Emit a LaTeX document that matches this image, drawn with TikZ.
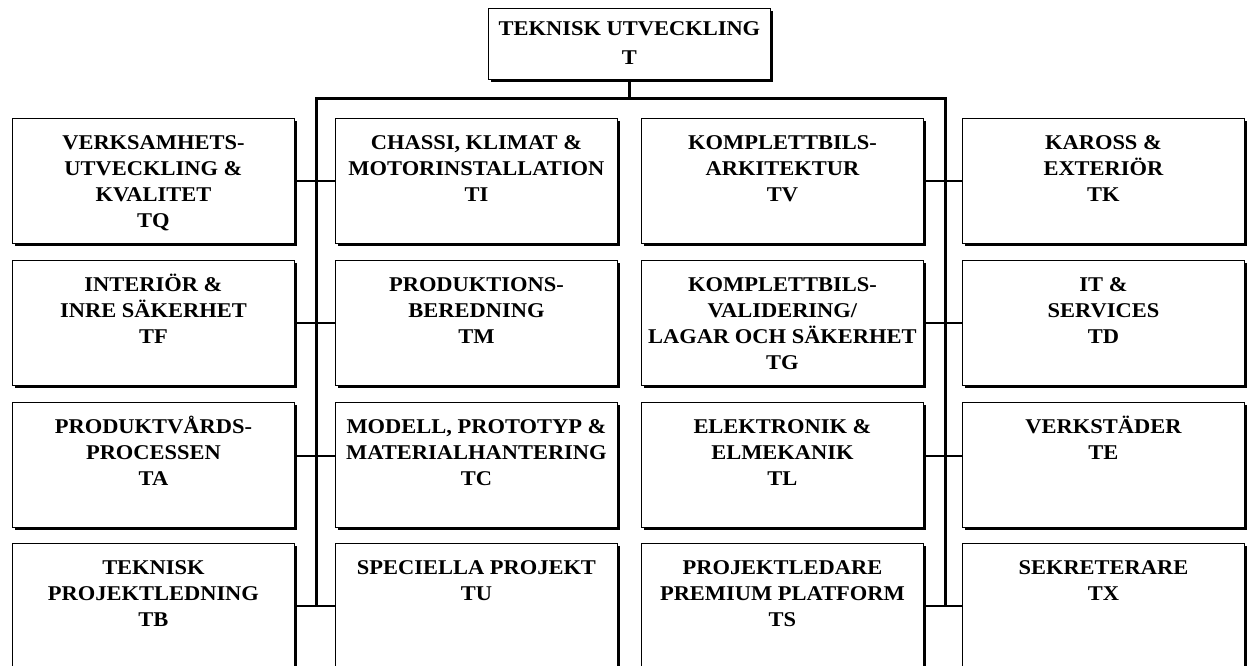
\documentclass[tikz,border=0pt]{standalone}
\usepackage{fontspec}
\setmainfont{Liberation Serif}[FakeStretch=1.07]
\usetikzlibrary{shadows}

\tikzset{
  unit/.style={draw, line width=0.9pt, fill=white, inner sep=0pt, anchor=north west,
    drop shadow={shadow xshift=3pt, shadow yshift=-3pt, opacity=1, fill=black}},
  bus/.style={line width=3pt, line join=miter},
  link/.style={line width=2pt}
}
\newcommand{\unitbox}[1]{\parbox[c][125pt][t]{282pt}{\centering\bfseries\fontsize{21pt}{26pt}\selectfont\rule{0pt}{31pt}#1}}

\begin{document}
\begin{tikzpicture}[x=1pt, y=-1pt]

\useasboundingbox (0,0) rectangle (1247,666);
\clip (0,0) rectangle (1247,666);

\coordinate (busL) at (316,99); \coordinate (busR) at (945,99);

\node [unit] (t) at (488,8) {\parbox[c][71pt][t]{282pt}{\centering\bfseries\fontsize{21pt}{29pt}\selectfont\rule{0pt}{27pt}TEKNISK UTVECKLING\\T}};

%%%%% First row
\node [unit] (tq) at (12,118) {\unitbox{VERKSAMHETS-\\UTVECKLING \&\\KVALITET\\TQ}};
\node [unit] (ti) at (335,118) {\unitbox{CHASSI, KLIMAT \&\\MOTORINSTALLATION\\TI}};
\node [unit] (tv) at (641,118) {\unitbox{KOMPLETTBILS-\\ARKITEKTUR\\TV}};
\node [unit] (tk) at (962,118) {\unitbox{KAROSS \&\\EXTERIÖR\\TK}};

%%%%% Second row
\node [unit] (tf) at (12,260) {\unitbox{INTERIÖR \&\\INRE SÄKERHET\\TF}};
\node [unit] (tm) at (335,260) {\unitbox{PRODUKTIONS-\\BEREDNING\\TM}};
\node [unit] (tg) at (641,260) {\unitbox{KOMPLETTBILS-\\VALIDERING/\\LAGAR OCH SÄKERHET\\TG}};
\node [unit] (td) at (962,260) {\unitbox{IT \&\\SERVICES\\TD}};

%%%%% Third row
\node [unit] (ta) at (12,402) {\unitbox{PRODUKTVÅRDS-\\PROCESSEN\\TA}};
\node [unit] (tc) at (335,402) {\unitbox{MODELL, PROTOTYP \&\\MATERIALHANTERING\\TC}};
\node [unit] (tl) at (641,402) {\unitbox{ELEKTRONIK \&\\ELMEKANIK\\TL}};
\node [unit] (te) at (962,402) {\unitbox{VERKSTÄDER\\TE}};

%%%%% Fourth row
\node [unit] (tb) at (12,543) {\unitbox{TEKNISK\\PROJEKTLEDNING\\TB}};
\node [unit] (tu) at (335,543) {\unitbox{SPECIELLA PROJEKT\\TU}};
\node [unit] (ts) at (641,543) {\unitbox{PROJEKTLEDARE\\PREMIUM PLATFORM\\TS}};
\node [unit] (tx) at (962,543) {\unitbox{SEKRETERARE\\TX}};

%%%%% Lines
\draw [bus] (t.south) -- (t.south |- busL);
\draw [bus] (busL |- tb.east) -- (busL) -- (busR) -- (busR |- ts.east);

\draw [link] (tq.east) -- (ti.west); \draw [link] (tv.east) -- (tk.west);
\draw [link] (tf.east) -- (tm.west); \draw [link] (tg.east) -- (td.west);
\draw [link] ([yshift=9pt]ta.east) -- ([yshift=9pt]tc.west); \draw [link] ([yshift=9pt]tl.east) -- ([yshift=9pt]te.west);
\draw [link] (tb.east) -- (tu.west); \draw [link] (ts.east) -- (tx.west);

\end{tikzpicture}
\end{document}
